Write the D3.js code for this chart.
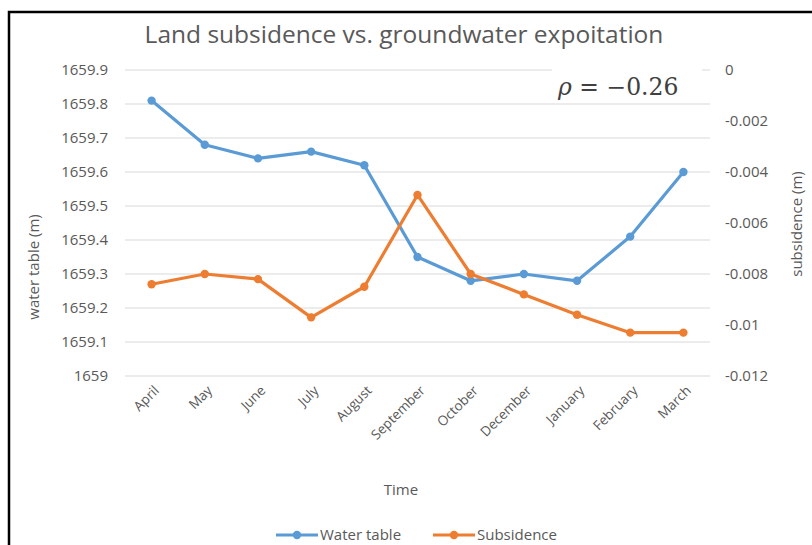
<!DOCTYPE html>
<html>
<head>
<meta charset="utf-8">
<script src="https://cdn.jsdelivr.net/npm/d3@7"></script>
<style>
  body { margin: 0; background: #fff; }
  svg text { font-family: "Open Sans", sans-serif; }
</style>
</head>
<body>
<div id="chart"></div>
<script>
// Données
const months = ["April", "May", "June", "July", "August", "September", "October", "December", "January", "February", "March"];
const waterTable = [1659.81, 1659.68, 1659.64, 1659.66, 1659.62, 1659.35, 1659.28, 1659.30, 1659.28, 1659.41, 1659.60];
const subsidence = [-0.0084, -0.0080, -0.0082, -0.0097, -0.0085, -0.0049, -0.0080, -0.0088, -0.0096, -0.0103, -0.0103];
const leftTicks = [1659, 1659.1, 1659.2, 1659.3, 1659.4, 1659.5, 1659.6, 1659.7, 1659.8, 1659.9];
const rightTicks = [0, -0.002, -0.004, -0.006, -0.008, -0.01, -0.012];

const W = 812, H = 545;
const PLOT = { left: 125, right: 710, top: 70, bottom: 376 };
const BLUE = "#5B9BD5", ORANGE = "#ED7D31", GREY = "#595959";

const svg = d3.select("#chart").append("svg")
    .attr("width", W)
    .attr("height", H);

// Cadre noir
svg.append("rect")
    .attr("x", 9).attr("y", 12)
    .attr("width", W + 10).attr("height", H + 10)
    .attr("fill", "#fff")
    .attr("stroke", "#000")
    .attr("stroke-width", 2.5);

// Echelles
const x = d3.scaleBand().domain(months).range([PLOT.left, PLOT.right]);
const xc = d => x(d) + x.bandwidth() / 2;
const yL = d3.scaleLinear().domain([1659, 1659.9]).range([PLOT.bottom, PLOT.top]);
const yR = d3.scaleLinear().domain([-0.012, 0]).range([PLOT.bottom, PLOT.top]);

// Grille
svg.append("g")
    .selectAll("line")
    .data(leftTicks)
    .join("line")
    .attr("x1", PLOT.left).attr("x2", PLOT.right)
    .attr("y1", d => yL(d)).attr("y2", d => yL(d))
    .attr("stroke", "#d9d9d9")
    .attr("stroke-width", 1);

// Axe gauche
const gL = svg.append("g")
    .attr("transform", `translate(${PLOT.left},0)`)
    .call(d3.axisLeft(yL).tickValues(leftTicks).tickSize(0).tickPadding(17)
        .tickFormat(d => d === 1659 ? "1659" : d.toFixed(1)));
gL.select(".domain").remove();
gL.selectAll("text").attr("fill", GREY).style("font-size", "15px");

// Axe droit
const gR = svg.append("g")
    .attr("transform", `translate(${PLOT.right},0)`)
    .call(d3.axisRight(yR).tickValues(rightTicks).tickSize(0).tickPadding(15)
        .tickFormat(d => String(d)));
gR.select(".domain").remove();
gR.selectAll("text").attr("fill", GREY).style("font-size", "15px");

// Axe X (labels en diagonale)
svg.append("g")
    .selectAll("text")
    .data(months)
    .join("text")
    .attr("transform", d => `translate(${xc(d) + 5},${PLOT.bottom + 12}) rotate(-45)`)
    .attr("text-anchor", "end")
    .attr("dy", "0.35em")
    .attr("fill", GREY)
    .style("font-size", "13.5px")
    .text(d => d);

// Titres des axes
svg.append("text")
    .attr("transform", "rotate(-90)")
    .attr("x", -267).attr("y", 39)
    .attr("text-anchor", "middle")
    .attr("fill", GREY)
    .style("font-size", "15px")
    .text("water table (m)");

svg.append("text")
    .attr("transform", "rotate(-90)")
    .attr("x", -224).attr("y", 802)
    .attr("text-anchor", "middle")
    .attr("fill", GREY)
    .style("font-size", "15px")
    .text("subsidence (m)");

svg.append("text")
    .attr("x", 401).attr("y", 495)
    .attr("text-anchor", "middle")
    .attr("fill", GREY)
    .style("font-size", "15px")
    .text("Time");

// Titre
svg.append("text")
    .attr("x", 404).attr("y", 43)
    .attr("text-anchor", "middle")
    .attr("fill", GREY)
    .style("font-size", "24.5px")
    .text("Land subsidence vs. groundwater expoitation");

// Zone de texte rho
svg.append("rect")
    .attr("x", 552).attr("y", 58)
    .attr("width", 150).attr("height", 40)
    .attr("fill", "#fff");
const rho = svg.append("text")
    .attr("x", 558).attr("y", 95)
    .attr("fill", "#404040")
    .style("font-family", "'DejaVu Serif', serif")
    .style("font-size", "23.5px");
rho.append("tspan").style("font-style", "italic").text("ρ");
rho.append("tspan").text(" = −0.26");

// Séries
const series = [
    { name: "Water table", values: waterTable, y: yL, color: BLUE },
    { name: "Subsidence", values: subsidence, y: yR, color: ORANGE }
];

series.forEach(s => {
    const pts = months.map((m, i) => [xc(m), s.y(s.values[i])]);
    svg.append("path")
        .attr("d", d3.line()(pts))
        .attr("fill", "none")
        .attr("stroke", s.color)
        .attr("stroke-width", 3.2)
        .attr("stroke-linejoin", "round");
    svg.append("g")
        .selectAll("circle")
        .data(pts)
        .join("circle")
        .attr("cx", d => d[0]).attr("cy", d => d[1])
        .attr("r", 4.2)
        .attr("fill", s.color);
});

// Légende
const legend = svg.append("g").attr("transform", "translate(0,535)");
const legendX = [276, 433];
series.forEach((s, i) => {
    const g = legend.append("g").attr("transform", `translate(${legendX[i]},0)`);
    g.append("line")
        .attr("x1", 0).attr("x2", 42)
        .attr("stroke", s.color).attr("stroke-width", 3.2);
    g.append("circle").attr("cx", 21).attr("r", 4.2).attr("fill", s.color);
    g.append("text")
        .attr("x", 44).attr("dy", "0.35em")
        .attr("fill", GREY)
        .style("font-size", "15px")
        .text(s.name);
});
</script>
</body>
</html>
